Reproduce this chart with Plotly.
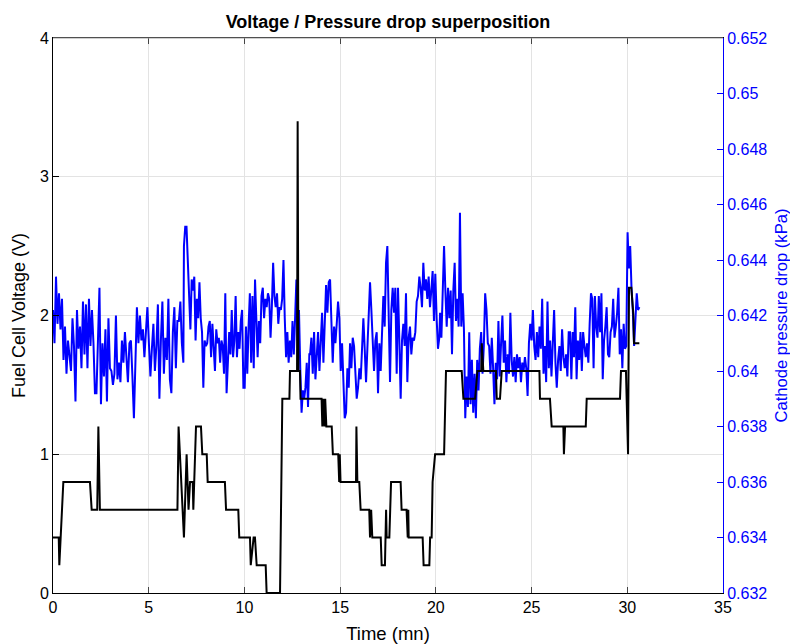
import numpy as np
import plotly.graph_objects as go

# ---------------- Fuel cell voltage (black) ----------------
volt_t = [0.00, 0.30, 0.33, 0.54, 1.93, 2.02, 2.31, 2.37, 2.45, 6.50, 6.56, 6.84, 6.98, 7.08,
          7.16, 7.30, 7.33, 7.47, 7.73, 7.80, 8.03, 8.08, 8.98, 9.04, 9.68, 9.73, 10.29, 10.33,
          10.48, 10.55, 10.64, 11.11, 11.16, 11.86, 11.98, 12.35, 12.38, 12.75, 12.78, 12.82,
          12.90, 12.93, 14.03, 14.07, 14.12, 14.18, 14.22, 14.28, 14.56, 14.62, 14.90, 14.95,
          14.98, 15.02, 15.83, 15.85, 15.90, 16.00, 16.07, 16.52, 16.56, 16.62, 16.68, 16.82,
          17.12, 17.17, 17.34, 17.40, 17.43, 17.57, 17.66, 18.16, 18.21, 18.47, 18.53, 18.56,
          18.58, 19.31, 19.36, 19.66, 19.70, 19.78, 19.83, 19.96, 20.43, 20.53, 21.35, 21.44,
          22.05, 22.17, 22.37, 22.40, 22.48, 23.14, 23.18, 23.35, 23.44, 25.41, 25.44, 25.96,
          26.05, 26.66, 26.69, 26.75, 27.83, 27.88, 29.62, 29.67, 29.93, 30.04, 30.09, 30.21,
          30.32, 30.35, 30.63]
volt_v = [0.4, 0.4, 0.2, 0.8, 0.8, 0.6, 0.6, 1.2, 0.6, 0.6, 1.2, 0.4, 1.0, 0.6,
          0.8, 0.8, 0.6, 1.2, 1.2, 1.0, 1.0, 0.8, 0.8, 0.6, 0.6, 0.4, 0.4, 0.2,
          0.4, 0.4, 0.2, 0.2, 0.0, 0.0, 1.4, 1.4, 1.6, 1.6, 3.4, 1.6,
          1.6, 1.4, 1.4, 1.2, 1.4, 1.2, 1.4, 1.2, 1.2, 1.0, 1.0, 0.8,
          1.0, 0.8, 0.8, 1.2, 0.8, 0.8, 0.6, 0.6, 0.4, 0.6, 0.4, 0.4,
          0.4, 0.2, 0.2, 0.6, 0.4, 0.4, 0.8, 0.8, 0.6, 0.6, 0.4, 0.6,
          0.4, 0.4, 0.2, 0.2, 0.4, 0.4, 0.8, 1.0, 1.0, 1.6, 1.6, 1.4,
          1.4, 1.6, 1.6, 1.8, 1.6, 1.6, 1.4, 1.4, 1.6, 1.6, 1.4, 1.4,
          1.2, 1.2, 1.0, 1.2, 1.2, 1.4, 1.4, 1.6, 1.6, 1.0, 2.2, 2.2,
          2.0, 1.8, 1.8]

# ---------------- Cathode pressure drop (blue), kPa ----------------
# each segment: start time, end time, sampled values
seg_start = [0.00, 6.84, 13.43, 20.22, 27.01]
seg_end = [6.81, 13.39, 20.18, 26.94, 30.63]

p_seg1 = [0.6422, 0.6410, 0.6434, 0.6417, 0.6428, 0.6415, 0.6426, 0.6404, 0.6416, 0.6399,
          0.6411, 0.6405, 0.6400, 0.6419, 0.6409, 0.6389, 0.6422, 0.6408, 0.6416, 0.6401,
          0.6425, 0.6406, 0.6424, 0.6401, 0.6426, 0.6409, 0.6422, 0.6410, 0.6392, 0.6392,
          0.6408, 0.6430, 0.6388, 0.6410, 0.6398, 0.6415, 0.6389, 0.6419, 0.6401, 0.6400,
          0.6395, 0.6399, 0.6420, 0.6397, 0.6403, 0.6396, 0.6411, 0.6403, 0.6414, 0.6405,
          0.6396, 0.6410, 0.6411, 0.6398, 0.6383, 0.6403, 0.6423, 0.6410, 0.6420, 0.6411,
          0.6415, 0.6405, 0.6415, 0.6423, 0.6410, 0.6398, 0.6408, 0.6417, 0.6400, 0.6409,
          0.6424, 0.6390, 0.6411, 0.6425, 0.6399, 0.6412, 0.6404, 0.6426, 0.6397, 0.6392,
          0.6414, 0.6423, 0.6401, 0.6418, 0.6418, 0.6425, 0.6410, 0.6403]
p_seg2 = [0.6445, 0.6452, 0.6452, 0.6440, 0.6430, 0.6415, 0.6433, 0.6429, 0.6434, 0.6411,
          0.6426, 0.6419, 0.6432, 0.6419, 0.6414, 0.6394, 0.6411, 0.6409, 0.6410, 0.6416,
          0.6418, 0.6405, 0.6417, 0.6406, 0.6400, 0.6415, 0.6410, 0.6412, 0.6403, 0.6411,
          0.6409, 0.6399, 0.6428, 0.6392, 0.6405, 0.6414, 0.6406, 0.6422, 0.6405, 0.6411,
          0.6427, 0.6405, 0.6414, 0.6408, 0.6418, 0.6422, 0.6394, 0.6394, 0.6416, 0.6399,
          0.6416, 0.6428, 0.6403, 0.6427, 0.6401, 0.6433, 0.6419, 0.6405, 0.6418, 0.6410,
          0.6427, 0.6430, 0.6419, 0.6426, 0.6423, 0.6428, 0.6426, 0.6412, 0.6423, 0.6439,
          0.6427, 0.6423, 0.6428, 0.6417, 0.6423, 0.6422, 0.6426, 0.6440, 0.6419, 0.6405,
          0.6414, 0.6403, 0.6411, 0.6405, 0.6418, 0.6406, 0.6419, 0.6433, 0.6411, 0.6422,
          0.6401, 0.6385, 0.6393, 0.6390, 0.6394, 0.6403, 0.6387, 0.6406]
p_seg3 = [0.6406, 0.6412, 0.6399, 0.6414, 0.6397, 0.6408, 0.6414, 0.6400, 0.6410, 0.6421,
          0.6403, 0.6419, 0.6431, 0.6421, 0.6432, 0.6433, 0.6416, 0.6403, 0.6416, 0.6410,
          0.6417, 0.6425, 0.6419, 0.6400, 0.6410, 0.6399, 0.6383, 0.6385, 0.6401, 0.6394,
          0.6410, 0.6401, 0.6412, 0.6409, 0.6396, 0.6390, 0.6394, 0.6401, 0.6397, 0.6409,
          0.6419, 0.6408, 0.6396, 0.6408, 0.6423, 0.6432, 0.6422, 0.6408, 0.6400, 0.6411,
          0.6414, 0.6392, 0.6410, 0.6400, 0.6417, 0.6427, 0.6416, 0.6439, 0.6445, 0.6417,
          0.6396, 0.6422, 0.6430, 0.6421, 0.6430, 0.6399, 0.6430, 0.6411, 0.6390, 0.6411,
          0.6417, 0.6409, 0.6428, 0.6396, 0.6412, 0.6416, 0.6406, 0.6412, 0.6411, 0.6414,
          0.6425, 0.6427, 0.6434, 0.6430, 0.6423, 0.6439, 0.6429, 0.6433, 0.6426, 0.6434,
          0.6423, 0.6429, 0.6436, 0.6418, 0.6435, 0.6419, 0.6408, 0.6412]
p_seg4 = [0.6421, 0.6412, 0.6432, 0.6445, 0.6429, 0.6416, 0.6430, 0.6419, 0.6429, 0.6406,
          0.6429, 0.6439, 0.6418, 0.6426, 0.6416, 0.6457, 0.6416, 0.6428, 0.6415, 0.6383,
          0.6398, 0.6387, 0.6414, 0.6388, 0.6404, 0.6385, 0.6399, 0.6383, 0.6404, 0.6393,
          0.6408, 0.6414, 0.6399, 0.6409, 0.6428, 0.6422, 0.6410, 0.6409, 0.6399, 0.6412,
          0.6401, 0.6388, 0.6403, 0.6397, 0.6418, 0.6398, 0.6410, 0.6420, 0.6403, 0.6411,
          0.6396, 0.6406, 0.6399, 0.6421, 0.6404, 0.6398, 0.6405, 0.6396, 0.6406, 0.6401,
          0.6405, 0.6396, 0.6403, 0.6400, 0.6405, 0.6401, 0.6391, 0.6410, 0.6417, 0.6411,
          0.6422, 0.6409, 0.6404, 0.6414, 0.6405, 0.6416, 0.6408, 0.6426, 0.6399, 0.6409,
          0.6396, 0.6425, 0.6401, 0.6411, 0.6398, 0.6409, 0.6422, 0.6403, 0.6394, 0.6404,
          0.6409, 0.6400, 0.6415, 0.6405, 0.6401, 0.6406, 0.6398, 0.6414]
p_seg5 = [0.6414, 0.6397, 0.6414, 0.6405, 0.6423, 0.6397, 0.6411, 0.6404, 0.6414, 0.6400,
          0.6414, 0.6409, 0.6405, 0.6410, 0.6403, 0.6417, 0.6428, 0.6426, 0.6401, 0.6427,
          0.6416, 0.6412, 0.6427, 0.6414, 0.6428, 0.6397, 0.6411, 0.6416, 0.6423, 0.6406,
          0.6405, 0.6414, 0.6416, 0.6426, 0.6412, 0.6416, 0.6421, 0.6430, 0.6406, 0.6415,
          0.6401, 0.6417, 0.6408, 0.6409, 0.6450, 0.6437, 0.6445, 0.6430, 0.6422, 0.6409,
          0.6419, 0.6428, 0.6422, 0.6423]
p_segments = [p_seg1, p_seg2, p_seg3, p_seg4, p_seg5]

press_t = np.concatenate([np.linspace(a, b, len(s)) for a, b, s in zip(seg_start, seg_end, p_segments)])
press_v = np.concatenate([np.array(s) for s in p_segments])

# tick labels
x_ticks = [0, 5, 10, 15, 20, 25, 30, 35]
v_ticks = [0, 1, 2, 3, 4]
p_ticks = [0.632, 0.634, 0.636, 0.638, 0.64, 0.642, 0.644, 0.646, 0.648, 0.65, 0.652]
p_ticktext = ["0.632", "0.634", "0.636", "0.638", "0.64", "0.642", "0.644", "0.646", "0.648", "0.65", "0.652"]

FONT = "Liberation Sans, Arial, sans-serif"
BLUE = "#0000FF"

fig = go.Figure()
fig.add_trace(go.Scatter(x=press_t, y=press_v, mode="lines", yaxis="y",
                         line=dict(color=BLUE, width=2), showlegend=False))
fig.add_trace(go.Scatter(x=volt_t, y=volt_v, mode="lines", yaxis="y2",
                         line=dict(color="black", width=2), showlegend=False))

# the page body adds an 8 px offset, so the figure is 790x636
fig.update_layout(
    width=790, height=636,
    margin=dict(l=45, r=75, t=30, b=51, autoexpand=False),
    paper_bgcolor="white", plot_bgcolor="white",
    font=dict(family=FONT, size=16, color="black"),
    title=dict(text="<b>Voltage / Pressure drop superposition</b>",
               x=0.5, xref="paper", xanchor="center",
               y=1 - 14 / 636, yref="container", yanchor="middle",
               font=dict(family=FONT, size=18, color="black")),
    xaxis=dict(range=[0, 35], tickvals=x_ticks, ticks="inside", ticklen=6,
               showline=True, linecolor="black", linewidth=1, mirror="ticks",
               showgrid=True, gridcolor="#e3e3e3", zeroline=False, automargin=False,
               tickfont=dict(size=16),
               title=dict(text="Time (mn)", font=dict(size=18.5), standoff=18)),
    yaxis=dict(range=[0.632, 0.652], tickvals=p_ticks, ticktext=p_ticktext,
               side="right", ticks="inside", ticklen=6, tickcolor=BLUE,
               showline=True, linecolor=BLUE, linewidth=1,
               showgrid=False, zeroline=False, automargin=False,
               tickfont=dict(size=16, color=BLUE),
               title=dict(text="Cathode pressure drop (kPa)", font=dict(size=16.6, color=BLUE), standoff=9)),
    yaxis2=dict(range=[0, 4], tickvals=v_ticks, overlaying="y", side="left",
                ticks="inside", ticklen=6, tickcolor="black",
                showline=True, linecolor="black", linewidth=1,
                showgrid=True, gridcolor="#e3e3e3", zeroline=False, automargin=False,
                tickfont=dict(size=16),
                title=dict(text="Fuel Cell Voltage (V)", font=dict(size=18), standoff=9)),
)

# gray top border like the reference box
fig.add_shape(type="line", xref="paper", yref="paper", x0=0, x1=1, y0=1, y1=1,
              line=dict(color="#a0a0a0", width=1))

fig.write_html("out.html")
